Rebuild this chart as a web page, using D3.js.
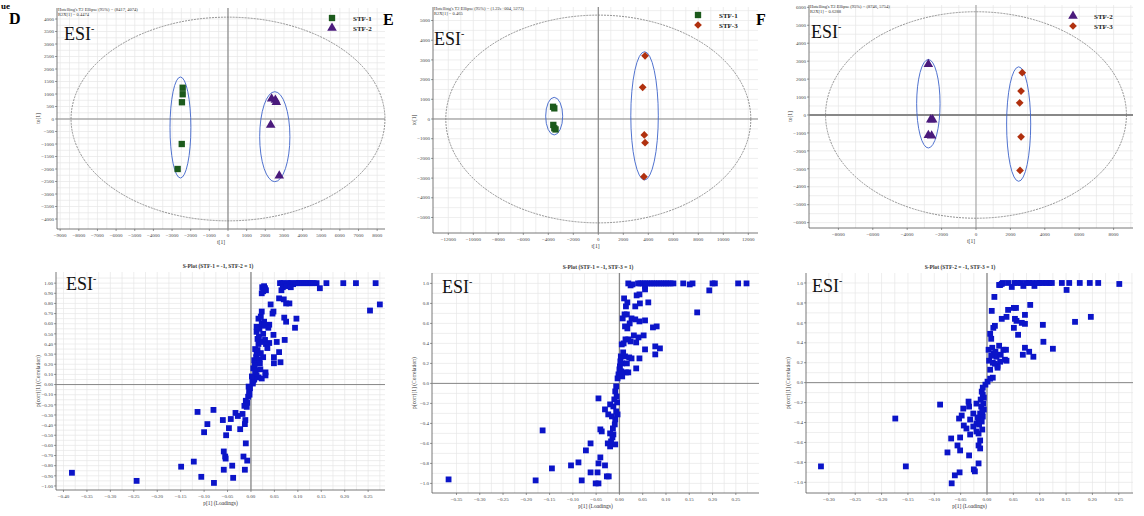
<!DOCTYPE html>
<html>
<head>
<meta charset="utf-8">
<script src="https://cdn.jsdelivr.net/npm/d3@7"></script>
<style>
  body { margin: 0; background: #fff; }
  text { font-family: "Liberation Serif", "DejaVu Serif", serif; }
</style>
</head>
<body>
<div class="fig"></div>
<script>
var W = 1144, H = 516;

// ---- score plots (OPLS-DA) ----
var dStf1 = [[-2430, 1250], [-2430, 990], [-2470, 670], [-2480, -1000], [-2700, -2000]];
var dStf2 = [[2340, 810], [2540, 760], [2590, 670], [2290, -240], [2750, -2270]];
var dT2 = [8417, 4074];
var dGroups = [[-2550, -340, 560, 2020], [2510, -708, 810, 1800]];
var dXTicks = d3.range(-9000, 8001, 1000);
var dYTicks = d3.range(-4000, 4001, 500);

var eStf1 = [[-3620, 620], [-3520, 540], [-3600, -300], [-3520, -470], [-3420, -530]];
var eStf3 = [[3740, 3210], [3550, 1610], [3680, -810], [3740, -1200], [3650, -2930]];
var eT2 = [12200, 5273];
var eGroups = [[-3530, 145, 680, 955], [3700, 160, 1100, 3256]];
var eXTicks = d3.range(-12000, 12001, 2000);
var eYTicks = d3.range(-5000, 5001, 1000);

var fStf2 = [[-2770, 2830], [-2630, -260], [-2520, -260], [-2770, -1130], [-2580, -1160]];
var fStf3 = [[2690, 2360], [2620, 1330], [2540, 675], [2620, -1220], [2560, -3090]];
var fT2 = [8746, 5754];
var fGroups = [[-2770, 627, 680, 2466], [2480, -506, 700, 3190]];
var fXTicks = d3.range(-8000, 8001, 2000);
var fYTicks = d3.range(-6000, 6001, 1000);

// ---- S-plots: [p[1], p(corr)[1]] ----
var sD = [
  [0.062, 1.0], [0.066, 1.0], [0.070, 1.0], [0.074, 0.99], [0.078, 1.0], [0.082, 1.0], [0.086, 1.0],
  [0.090, 0.99], [0.094, 1.0], [0.098, 1.0], [0.102, 1.0], [0.106, 1.0], [0.110, 1.0], [0.114, 1.0],
  [0.118, 1.0], [0.122, 1.0], [0.126, 1.0], [0.130, 1.0], [0.134, 1.0], [0.140, 1.0], [0.161, 1.0],
  [0.197, 1.0], [0.224, 1.0], [0.266, 1.0], [0.147, 0.95], [0.254, 0.73], [0.275, 0.79],
  [0.024, 0.96], [0.028, 0.97], [0.030, 0.95], [0.026, 0.92], [0.023, 0.90], [0.032, 0.93],
  [0.065, 0.93], [0.068, 0.96], [0.076, 0.97], [0.085, 0.96],
  [0.004, 0.01], [0.005, 0.04], [0.006, 0.07], [0.009, 0.11], [0.012, 0.09], [0.016, 0.07],
  [0.023, 0.06], [0.031, 0.09], [0.031, 0.12], [0.005, 0.16], [0.007, 0.24], [0.011, 0.27],
  [0.018, 0.25], [0.019, 0.21], [0.012, 0.31], [0.021, 0.31], [0.026, 0.27], [0.049, 0.27],
  [0.049, 0.21], [0.063, 0.22], [0.060, 0.32], [0.009, 0.35], [0.016, 0.40], [0.021, 0.42],
  [0.030, 0.44], [0.039, 0.41], [0.032, 0.40], [0.048, 0.49], [0.055, 0.42], [0.072, 0.44],
  [0.012, 0.52], [0.018, 0.55], [0.012, 0.57], [0.023, 0.60], [0.028, 0.62], [0.039, 0.59],
  [0.037, 0.56], [0.016, 0.65], [0.021, 0.67], [0.023, 0.72], [0.042, 0.79], [0.048, 0.72],
  [0.046, 0.70], [0.070, 0.84], [0.060, 0.85], [0.075, 0.80], [0.082, 0.80], [0.071, 0.66],
  [0.075, 0.62], [0.097, 0.65], [0.094, 0.56], [0.008, 0.19], [0.010, 0.14], [0.014, 0.45],
  [0.026, 0.50], [0.035, 0.36], [0.003, 0.03], [0.007, 0.05], [0.002, 0.08], [0.014, 0.34],
  [0.020, 0.15], [0.029, 0.58], [0.017, 0.47],
  [-0.002, -0.04], [-0.004, -0.07], [-0.006, -0.12], [-0.011, -0.16], [-0.014, -0.21],
  [-0.009, -0.22], [-0.003, -0.10], [-0.008, -0.18], [-0.005, -0.02],
  [-0.114, -0.27], [-0.080, -0.25], [-0.093, -0.39], [-0.100, -0.47], [-0.060, -0.35],
  [-0.043, -0.34], [-0.047, -0.43], [-0.053, -0.50], [-0.023, -0.44], [-0.033, -0.28],
  [-0.028, -0.31], [-0.018, -0.29], [-0.012, -0.35], [-0.013, -0.39], [-0.011, -0.58],
  [-0.058, -0.66], [-0.055, -0.71], [-0.054, -0.73], [-0.016, -0.71], [-0.008, -0.75],
  [-0.122, -0.76], [-0.149, -0.81], [-0.040, -0.80], [-0.058, -0.84], [-0.013, -0.84],
  [-0.106, -0.91], [-0.038, -0.92], [-0.079, -0.97], [-0.382, -0.87], [-0.244, -0.95]
];

var sE = [
  [0.019, 1.0], [0.024, 0.98], [0.040, 1.0], [0.045, 1.0], [0.050, 1.0], [0.055, 1.0], [0.060, 1.0],
  [0.065, 1.0], [0.070, 1.0], [0.075, 1.0], [0.080, 1.0], [0.085, 1.0], [0.090, 1.0], [0.095, 1.0],
  [0.100, 1.0], [0.105, 1.0], [0.110, 1.0], [0.116, 1.0], [0.137, 1.0], [0.151, 0.99], [0.157, 1.0],
  [0.200, 1.0], [0.205, 1.0], [0.255, 1.0], [0.273, 1.0], [0.193, 0.93], [0.167, 0.71],
  [0.028, 0.99], [0.055, 0.94], [0.055, 0.97],
  [0.010, 0.85], [0.017, 0.81], [0.014, 0.77], [0.034, 0.77], [0.044, 0.80], [0.037, 0.88],
  [0.043, 0.89], [0.062, 0.81], [0.007, 0.65], [0.011, 0.69], [0.016, 0.69], [0.012, 0.57],
  [0.017, 0.55], [0.026, 0.65], [0.034, 0.64], [0.043, 0.62], [0.055, 0.63], [0.072, 0.56],
  [0.080, 0.57], [0.005, 0.39], [0.009, 0.40], [0.019, 0.44], [0.024, 0.42], [0.031, 0.48],
  [0.041, 0.46], [0.052, 0.48], [0.036, 0.41], [0.077, 0.37], [0.087, 0.35], [0.077, 0.29],
  [0.055, 0.34], [0.043, 0.25], [0.003, 0.27], [0.012, 0.27], [0.021, 0.26], [0.026, 0.25],
  [0.001, 0.17], [0.006, 0.20], [0.016, 0.20], [0.014, 0.11], [0.019, 0.11], [0.036, 0.15],
  [0.000, 0.14], [-0.002, 0.09], [-0.004, 0.05], [0.004, 0.12], [0.008, 0.31], [0.002, 0.22],
  [0.013, 0.44], [0.022, 0.60], [0.006, 0.07],
  [-0.007, -0.03], [-0.009, -0.08], [-0.006, -0.13], [-0.011, -0.16], [-0.013, -0.23],
  [-0.007, -0.28], [-0.004, -0.31], [-0.009, -0.36], [-0.020, -0.21], [-0.031, -0.26],
  [-0.024, -0.31], [-0.016, -0.33], [-0.014, -0.45], [-0.013, -0.51], [-0.018, -0.58],
  [-0.025, -0.60], [-0.020, -0.63], [-0.009, -0.61], [-0.020, -0.50], [-0.045, -0.15],
  [-0.041, -0.46], [-0.038, -0.48], [-0.165, -0.47], [-0.062, -0.60], [-0.072, -0.67],
  [-0.041, -0.74], [-0.088, -0.79], [-0.104, -0.82], [-0.045, -0.80], [-0.031, -0.82],
  [-0.145, -0.85], [-0.062, -0.89], [-0.047, -0.89], [-0.027, -0.93], [-0.023, -0.93],
  [-0.081, -0.97], [-0.051, -1.0], [-0.045, -1.0], [-0.367, -0.96], [-0.180, -0.97],
  [-0.005, -0.19], [-0.010, -0.41], [-0.015, -0.54]
];

var sF = [
  [0.025, 0.98], [0.030, 1.0], [0.040, 1.0], [0.047, 0.96], [0.052, 1.0], [0.058, 1.0], [0.064, 1.0],
  [0.069, 0.97], [0.074, 1.0], [0.080, 1.0], [0.086, 1.0], [0.090, 0.97], [0.095, 1.0], [0.100, 1.0],
  [0.106, 1.0], [0.112, 1.0], [0.118, 1.0], [0.123, 1.0], [0.142, 1.0], [0.156, 1.0], [0.176, 1.0],
  [0.195, 1.0], [0.211, 1.0], [0.251, 0.99], [0.151, 0.93], [0.023, 0.98], [0.028, 0.99],
  [0.014, 0.86], [0.009, 0.72], [0.040, 0.73], [0.051, 0.75], [0.055, 0.75], [0.082, 0.78],
  [0.072, 0.68], [0.028, 0.64], [0.037, 0.66], [0.053, 0.64], [0.056, 0.62], [0.066, 0.60],
  [0.072, 0.59], [0.106, 0.58], [0.167, 0.61], [0.197, 0.66], [0.015, 0.57], [0.012, 0.55],
  [0.051, 0.55], [0.059, 0.48], [0.006, 0.49], [0.008, 0.44], [0.107, 0.41], [0.125, 0.34],
  [0.072, 0.35], [0.080, 0.31], [0.068, 0.28], [0.088, 0.26], [0.003, 0.33], [0.010, 0.35],
  [0.023, 0.37], [0.031, 0.33], [0.036, 0.33], [0.013, 0.29], [0.018, 0.26], [0.026, 0.28],
  [0.034, 0.23], [0.037, 0.22], [0.004, 0.22], [0.011, 0.20], [0.020, 0.17], [0.020, 0.15],
  [0.006, 0.13], [0.011, 0.05], [0.006, 0.04], [0.001, 0.01], [0.015, 0.19], [0.025, 0.21],
  [0.008, 0.27], [0.016, 0.31],
  [-0.003, -0.02], [-0.008, -0.05], [-0.010, -0.09], [-0.008, -0.12], [-0.006, -0.15],
  [-0.012, -0.17], [-0.007, -0.21], [-0.011, -0.24], [-0.006, -0.27], [-0.013, -0.31],
  [-0.008, -0.34], [-0.016, -0.37], [-0.010, -0.39], [-0.020, -0.41], [-0.015, -0.42],
  [-0.009, -0.47], [-0.020, -0.21], [-0.026, -0.31], [-0.032, -0.37], [-0.026, -0.44],
  [-0.016, -0.51], [-0.013, -0.58], [-0.016, -0.63], [-0.013, -0.66], [-0.020, -0.49],
  [-0.032, -0.52], [-0.039, -0.46], [-0.035, -0.19], [-0.034, -0.24], [-0.045, -0.26],
  [-0.048, -0.33], [-0.044, -0.43], [-0.089, -0.22], [-0.053, -0.36], [-0.051, -0.55],
  [-0.068, -0.56], [-0.056, -0.63], [-0.051, -0.68], [-0.075, -0.70], [-0.034, -0.73],
  [-0.016, -0.81], [-0.025, -0.87], [-0.023, -0.89], [-0.052, -0.90], [-0.061, -0.93],
  [-0.067, -1.01], [-0.174, -0.36], [-0.154, -0.84], [-0.315, -0.84],
  [-0.012, -0.38], [-0.018, -0.35], [-0.009, -0.29]
];
var sXTicksD = d3.range(-0.40, 0.2501, 0.05);
var sXTicksE = d3.range(-0.35, 0.2501, 0.05);
var sXTicksF = d3.range(-0.30, 0.2501, 0.05);
var sYTicksD = d3.range(-1.0, 1.001, 0.1);
var sYTicksEF = d3.range(-1.0, 1.001, 0.2);

var cGreen = "#1c5a1c", cPurple = "#4a1a7c", cRed = "#b0300e", cBlue = "#0b14c8";

var svg = d3.select(".fig").append("svg").attr("width", W).attr("height", H);
svg.append("rect").attr("width", W).attr("height", H).attr("fill", "#fff");

function gridAndAxes(g, x, y, o) {
  var xs = o.xTicks, ys = o.yTicks;
  var xStep = xs[1] - xs[0], yStep = ys[1] - ys[0];
  var xMinor = [], yMinor = [];
  xs.forEach(function (t) { xMinor.push(t + xStep / 2); });
  ys.forEach(function (t) { yMinor.push(t + yStep / 2); });
  g.selectAll(".gxm").data(xMinor.concat(xs).filter(function (v) {
      return x(v) > o.left && x(v) < o.right; }))
    .enter().append("line")
    .attr("x1", function (d) { return x(d); }).attr("x2", function (d) { return x(d); })
    .attr("y1", o.top).attr("y2", o.bottom)
    .attr("stroke", "#e6e6e6").attr("stroke-width", 0.7);
  g.selectAll(".gym").data(yMinor.concat(ys).filter(function (v) {
      return y(v) > o.top && y(v) < o.bottom; }))
    .enter().append("line")
    .attr("y1", function (d) { return y(d); }).attr("y2", function (d) { return y(d); })
    .attr("x1", o.left).attr("x2", o.right)
    .attr("stroke", "#e6e6e6").attr("stroke-width", 0.7);

  // axis lines
  g.append("line").attr("x1", o.left).attr("x2", o.left).attr("y1", o.top).attr("y2", o.bottom)
    .attr("stroke", "#555").attr("stroke-width", 0.8);
  g.append("line").attr("x1", o.left).attr("x2", o.right).attr("y1", o.bottom).attr("y2", o.bottom)
    .attr("stroke", "#555").attr("stroke-width", 0.8);

  g.selectAll(".xt").data(xs).enter().append("line")
    .attr("x1", function (d) { return x(d); }).attr("x2", function (d) { return x(d); })
    .attr("y1", o.bottom).attr("y2", o.bottom + 2).attr("stroke", "#555").attr("stroke-width", 0.6);
  g.selectAll(".xl").data(xs).enter().append("text")
    .attr("x", function (d) { return x(d); }).attr("y", o.bottom + 8)
    .attr("text-anchor", "middle").attr("font-size", 5).attr("fill", "#444")
    .text(function (d) { return o.fmtX(d); });
  g.selectAll(".yt").data(ys).enter().append("line")
    .attr("y1", function (d) { return y(d); }).attr("y2", function (d) { return y(d); })
    .attr("x1", o.left - 2).attr("x2", o.left).attr("stroke", "#555").attr("stroke-width", 0.6);
  g.selectAll(".yl").data(ys).enter().append("text")
    .attr("x", o.left - 3).attr("y", function (d) { return y(d) + 1.7; })
    .attr("text-anchor", "end").attr("font-size", 5).attr("fill", "#444")
    .text(function (d) { return o.fmtY(d); });

  // zero lines
  g.append("line").attr("x1", x(0)).attr("x2", x(0)).attr("y1", o.top).attr("y2", o.bottom)
    .attr("stroke", "#888").attr("stroke-width", o.zw || 1.2);
  g.append("line").attr("x1", o.left).attr("x2", o.right).attr("y1", y(0)).attr("y2", y(0))
    .attr("stroke", "#888").attr("stroke-width", o.zwy || 1);

  g.append("text").attr("x", (o.left + o.right) / 2).attr("y", o.bottom + 15)
    .attr("text-anchor", "middle").attr("font-size", 5.5).attr("fill", "#333").text(o.xTitle);
  g.append("text")
    .attr("transform", "translate(" + o.yTitleX + "," + ((o.top + o.bottom) / 2) + ") rotate(-90)")
    .attr("text-anchor", "middle").attr("font-size", 5.5).attr("fill", "#333").text(o.yTitle);
}

function esi(g, px, py) {
  var t = g.append("text").attr("x", px).attr("y", py).attr("font-size", 18).attr("fill", "#111");
  t.append("tspan").text("ESI");
  t.append("tspan").attr("dy", -8).attr("font-size", 10).text("-");
}

function scorePlot(o) {
  var x = d3.scaleLinear().domain(o.xDom).range([o.left, o.right]);
  var y = d3.scaleLinear().domain(o.yDom).range([o.bottom, o.top]);
  var g = svg.append("g");
  gridAndAxes(g, x, y, {
    left: o.left, right: o.right, top: o.top, bottom: o.bottom,
    xTicks: o.xTicks, yTicks: o.yTicks,
    fmtX: d3.format("d"), fmtY: d3.format("d"),
    xTitle: "t[1]", yTitle: "to[1]", yTitleX: o.left - 17, zw: o.zw || 1.2, zwy: o.zwy
  });

  // Hotelling T2 ellipse
  g.append("ellipse").attr("cx", x(0)).attr("cy", y(0))
    .attr("rx", x(o.t2[0]) - x(0)).attr("ry", y(0) - y(o.t2[1]))
    .attr("fill", "none").attr("stroke", "#777").attr("stroke-width", 0.8)
    .attr("stroke-dasharray", "2,1");

  g.selectAll(".grp").data(o.groups).enter().append("ellipse")
    .attr("cx", function (d) { return x(d[0]); }).attr("cy", function (d) { return y(d[1]); })
    .attr("rx", function (d) { return x(d[2]) - x(0); })
    .attr("ry", function (d) { return y(0) - y(d[3]); })
    .attr("fill", "none").attr("stroke", "#3d63c9").attr("stroke-width", 0.9);

  o.series.forEach(function (s) {
    g.selectAll(null).data(s.data).enter().append("path")
      .attr("d", d3.symbol().type(s.shape).size(s.size))
      .attr("transform", function (d) {
        return "translate(" + x(d[0]) + "," + y(d[1]) + ")" + (s.rot ? " rotate(45)" : "");
      })
      .attr("fill", s.color);
  });

  // header text
  g.append("text").attr("x", o.left + 1).attr("y", o.top + 3).attr("font-size", 4.5).attr("fill", "#333")
    .text(o.note1);
  g.append("text").attr("x", o.left + 1).attr("y", o.top + 8).attr("font-size", 4.5).attr("fill", "#333")
    .text(o.note2);
  esi(g, o.esi[0], o.esi[1]);

  // legend
  o.series.forEach(function (s, i) {
    var ly = o.legend[1] + i * 10;
    g.append("path").attr("d", d3.symbol().type(s.shape).size(s.size))
      .attr("transform", "translate(" + o.legend[0] + "," + ly + ")" + (s.rot ? " rotate(45)" : ""))
      .attr("fill", s.color);
    g.append("text").attr("x", o.legend[0] + 21).attr("y", ly + 2.5)
      .attr("font-size", 7).attr("font-weight", "bold").attr("fill", "#222").text(s.name);
  });
}

function sPlot(o) {
  var x = d3.scaleLinear().domain(o.xDom).range([o.left, o.right]);
  var y = d3.scaleLinear().domain(o.yDom).range([o.bottom, o.top]);
  var g = svg.append("g");
  gridAndAxes(g, x, y, {
    left: o.left, right: o.right, top: o.top, bottom: o.bottom,
    xTicks: o.xTicks, yTicks: o.yTicks,
    fmtX: d3.format(".2f"), fmtY: d3.format(o.yFmt),
    xTitle: "p[1] (Loadings)", yTitle: "p(corr)[1] (Correlation)", yTitleX: o.left - 16,
    zw: 1.3, zwy: 1
  });
  g.append("text").attr("x", o.titleX).attr("y", o.top - 4).attr("text-anchor", "middle")
    .attr("font-size", 5.5).attr("font-weight", "bold").attr("fill", "#333").text(o.title);
  g.selectAll(null).data(o.data).enter().append("rect")
    .attr("x", function (d) { return x(d[0]) - 2.9; })
    .attr("y", function (d) { return y(d[1]) - 2.9; })
    .attr("width", 5.8).attr("height", 5.8).attr("fill", cBlue);
  esi(g, o.esi[0], o.esi[1]);
}

scorePlot({
  left: 57, right: 385, top: 8, bottom: 229,
  xDom: [-9170, 8420], yDom: [-4400, 4440], xTicks: dXTicks, yTicks: dYTicks,
  t2: dT2, groups: dGroups,
  series: [
    { name: "STF-1", data: dStf1, shape: d3.symbolSquare, size: 40, color: cGreen },
    { name: "STF-2", data: dStf2, shape: d3.symbolTriangle, size: 40, color: cPurple }
  ],
  note1: "Hotelling's T2 Ellipse (95%) = (8417, 4074)", note2: "R2X[1] = 0.4474",
  esi: [64, 40], legend: [332, 18]
});
scorePlot({
  left: 433, right: 758, top: 7, bottom: 233,
  xDom: [-13224, 12776], yDom: [-5787, 5685], xTicks: eXTicks, yTicks: eYTicks,
  t2: eT2, groups: eGroups,
  series: [
    { name: "STF-1", data: eStf1, shape: d3.symbolSquare, size: 40, color: cGreen },
    { name: "STF-3", data: eStf3, shape: d3.symbolSquare, size: 30, color: cRed, rot: true }
  ],
  note1: "Hotelling's T2 Ellipse (95%) = (1.22e+004, 5273)", note2: "R2X[1] = 0.465",
  esi: [434, 45], legend: [698, 15]
});
scorePlot({
  left: 809, right: 1133, top: 5, bottom: 228,
  xDom: [-9709, 9128], yDom: [-6299, 6130], xTicks: fXTicks, yTicks: fYTicks,
  t2: fT2, groups: fGroups, zwy: 2.2, zw: 0.8,
  series: [
    { name: "STF-2", data: fStf2, shape: d3.symbolTriangle, size: 40, color: cPurple },
    { name: "STF-3", data: fStf3, shape: d3.symbolSquare, size: 30, color: cRed, rot: true }
  ],
  note1: "Hotelling's T2 Ellipse (95%) = (8746, 5754)", note2: "R2X[1] = 0.6288",
  esi: [811, 38], legend: [1073, 16]
});

sPlot({
  left: 56, right: 385, top: 272, bottom: 490,
  xDom: [-0.416, 0.286], yDom: [-1.04, 1.11], xTicks: sXTicksD, yTicks: sYTicksD, yFmt: ".2f",
  data: sD, title: "S-Plot (STF-1 = -1, STF-2 = 1)", titleX: 218, esi: [66, 290]
});
sPlot({
  left: 432, right: 759, top: 273, bottom: 493,
  xDom: [-0.4026, 0.2998], yDom: [-1.096, 1.104], xTicks: sXTicksE, yTicks: sYTicksEF, yFmt: ".1f",
  data: sE, title: "S-Plot (STF-1 = -1, STF-3 = 1)", titleX: 598, esi: [442, 293]
});
sPlot({
  left: 806, right: 1133, top: 273, bottom: 493,
  xDom: [-0.3434, 0.277], yDom: [-1.107, 1.10], xTicks: sXTicksF, yTicks: sYTicksEF, yFmt: ".1f",
  data: sF, title: "S-Plot (STF-2 = -1, STF-3 = 1)", titleX: 960, esi: [812, 292]
});

// panel letters
var letters = [["D", 9, 24], ["E", 383, 25], ["F", 756, 25]];
svg.selectAll(".lab").data(letters).enter().append("text")
  .attr("x", function (d) { return d[1]; }).attr("y", function (d) { return d[2]; })
  .attr("font-size", 16).attr("font-weight", "bold").attr("fill", "#000")
  .text(function (d) { return d[0]; });
svg.append("text").attr("x", 1).attr("y", 9).attr("font-size", 9).attr("font-weight", "bold")
  .attr("fill", "#000").text("ue");
</script>
</body>
</html>
